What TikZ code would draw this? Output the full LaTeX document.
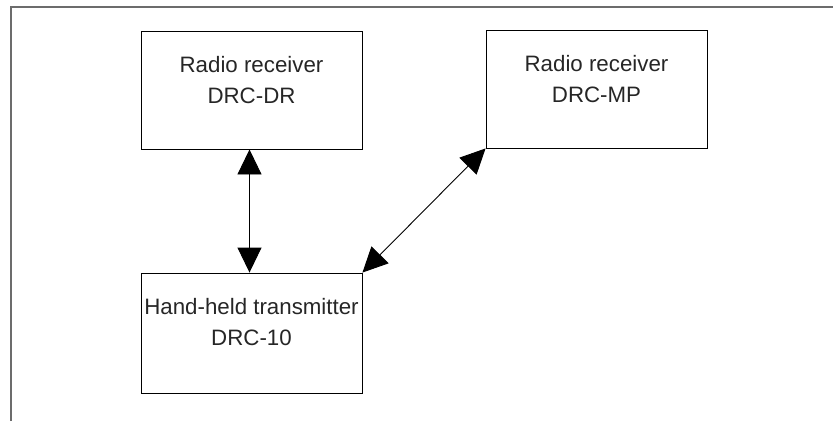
\documentclass[tikz,border=0pt]{standalone}
\usepackage{fontspec}
\setmainfont{Liberation Sans}
\usetikzlibrary{arrows.meta}
\begin{document}
\begin{tikzpicture}[x=1pt,y=-1pt,<->,>={Triangle[length=25pt,width=24pt]},line width=0.9pt,
    box/.style={draw,rectangle,minimum width=221pt,minimum height=118pt,inner sep=0pt},
    boxtext/.style={anchor=north,align=center,inner sep=0pt,text=black!85,font=\fontsize{22.3}{31}\selectfont}]
      \useasboundingbox (0,0) rectangle (833,421);
      \coordinate (frameA) at (11,421);
      \coordinate (frameB) at (11,7);
      \coordinate (frameC) at (833,7);
      \draw[-,gray!85!black,line width=1.2pt] (frameA) -- (frameB) -- (frameC);
      \node[box] (DR) at (251.5,90) {};
      \node[box] (MP) at (596.5,89) {};
      \node[box,minimum height=120pt] (HH) at (251.5,333) {};
      \node[boxtext] (DRtext) at ([yshift=-25pt]DR.north) {Radio receiver\\DRC-DR};
      \node[boxtext] (MPtext) at ([yshift=-25pt]MP.north) {Radio receiver\\DRC-MP};
      \node[boxtext] (HHtext) at ([yshift=-25pt]HH.north) {Hand-held transmitter\\DRC-10};
      \draw ([xshift=-2pt]DR.south) -- ([xshift=-2pt]HH.north);
      \draw (HH.north east) -- (MP.south west);
    \end{tikzpicture}
\end{document}
